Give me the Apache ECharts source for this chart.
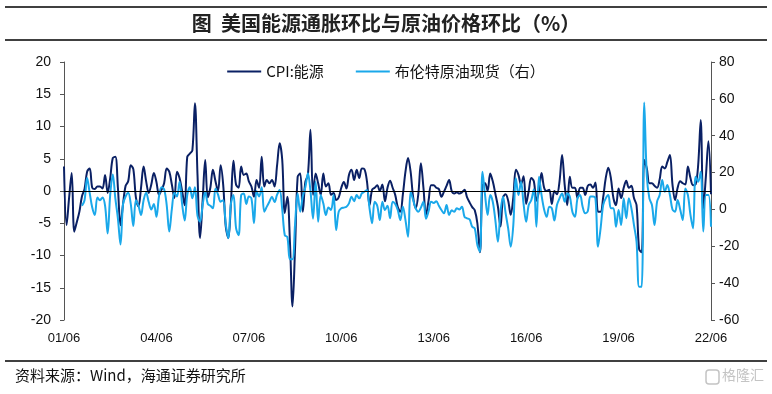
<!DOCTYPE html>
<html>
<head>
<meta charset="utf-8">
<script src="https://cdn.jsdelivr.net/npm/echarts@6/dist/echarts.min.js"></script>
<style>
html,body{margin:0;padding:0;background:#fff;}
#c{width:772px;height:394px;}
</style>
</head>
<body>
<div id="c"></div>
<script>
// ---- data ----
const startYear = 2001, startMonth = 6, nPoints = 253;
const seriesNames = ['CPI:能源', '布伦特原油现货（右）'];
const cpiEnergy = [
 3.8,-5.3,-1.0,2.8,-6.3,-4.8,-3.2,-0.8,0.3,3.0,
 3.5,0.5,0.3,0.7,0.7,0.4,2.5,-0.3,2.0,5.1,
 5.3,0.5,-5.3,-2.0,0.8,1.5,4.0,3.4,-1.0,-2.4,
 0.5,3.8,1.5,-0.3,1.0,2.8,1.4,-0.6,0.2,1.2,
 3.5,3.0,1.0,-1.1,3.0,2.0,0.0,-2.2,5.3,5.8,
 6.3,13.6,2.5,-7.3,-1.5,4.8,-1.0,0.5,3.3,1.5,
 0.0,4.0,1.0,-5.5,-7.3,-2.0,4.7,1.0,0.5,3.8,
 2.5,2.7,1.5,0.7,-0.9,1.7,0.5,5.3,0.7,1.7,
 1.2,1.7,0.7,4.0,7.4,4.8,-3.4,-0.9,-7.9,-17.9,
 -8.8,2.2,2.7,-3.2,1.4,2.5,9.5,-0.6,2.7,1.2,
 -0.6,2.7,0.7,1.2,-0.6,-0.3,-1.4,-1.0,0.5,1.4,
 0.4,2.5,3.3,1.7,3.3,2.0,3.5,3.4,1.5,-2.2,
 0.2,0.5,0.9,0.0,1.0,-1.6,0.5,1.6,0.5,-0.6,
 -2.5,-3.2,-0.5,3.0,5.1,3.0,-1.0,-2.7,-0.5,4.3,
 0.5,-3.7,-1.5,0.9,0.9,0.5,0.3,-0.9,-0.1,0.8,
 1.7,0.0,-0.4,-0.2,-0.4,-0.2,0.2,-1.0,-1.8,-2.5,
 -3.0,-5.0,-9.5,0.9,1.2,0.0,2.7,1.5,-0.4,-2.4,
 -5.5,-1.0,-0.5,-1.5,-3.7,-1.0,3.3,2.5,1.0,2.3,
 -2.0,0.0,2.0,1.5,-1.5,0.0,2.8,0.5,0.0,0.2,
 -2.0,0.0,-0.5,1.5,5.6,1.0,-2.2,2.2,0.5,0.5,
 -1.1,0.5,0.5,-0.6,0.8,1.0,0.5,1.3,-3.2,-3.2,
 -1.0,2.0,3.6,2.0,-1.1,-2.2,0.4,-1.1,0.5,1.6,
 0.5,0.8,-1.1,-2.2,-9.0,-9.5,4.8,3.5,1.2,1.2,
 0.8,0.5,1.8,3.8,3.5,4.5,5.6,1.0,-1.4,0.5,
 1.5,1.2,1.0,3.8,2.0,0.9,1.0,4.0,11.0,-2.7,
 2.2,7.7,-0.5
];
const brentSpot = [
 null,null,null,null,null,null,null,2,5,17,
 9,1,-3,6.5,5,6.5,2,-13,8,19,
 6,-5,-19,3,7,9,3,-9,5,2,
 -3,5,9,4,0,3,-4,7,12,11,
 2.4,-12,0,9,7,15,3,-6,7.8,12,
 6,12,-3.5,-6.7,2.4,9.6,3,2,0.6,11.4,
 8,4.2,5,-8,-15.7,3,7.8,-10,-14,7.8,
 8.7,3,7,6,-7.5,10,7,12,-1.2,1.5,
 4.2,6.9,4,8,10.5,0,-14,-15,-27,-27,
 -8,8.7,-1.2,7,12,19.6,10,-5,15,-6.7,
 7.8,3.3,-3,1,-0.3,7.8,-11.2,-1.2,0.6,1.0,
 1.5,3.3,6.9,4.5,7.8,6,8.7,9.6,10.5,0.6,
 -7.5,4.2,2,-5.8,4.2,-0.3,2,-4.8,4.2,3,
 -0.3,-5.8,1.5,-5.8,-14.8,9.6,5,0.6,-1.2,1,
 4.2,-5,-1,4.2,3.5,4.5,2,-0.3,-2.1,2.4,
 -3,-0.5,-1.2,0.6,0,1.5,-4,-4.8,-5.5,-9.4,
 -10.3,-19.3,-23,20.5,7.8,-3,7.8,4.2,-5.8,-17.5,
 -1.2,6.9,-2,-10.3,-20.2,-8.5,16.9,7.8,15,3,
 -6.7,2.4,5,11,-9.4,17.7,7.8,0,-4,1.5,
 0.6,-6,2.4,6,8.7,4.2,8.7,7,-1.2,-4,
 6,7.8,1.5,-2.1,-1,7,7,6,-20.2,-10.3,
 2.4,6,7.8,0.6,0.6,-9.4,-0.3,-8.5,6,-4.8,
 6,0.6,-8.5,-17.5,-42,-42,58,18,6,2.4,
 -8.5,4.2,7.8,16,9.6,13.2,7.8,0,-1.2,5.1,
 0,-5.8,11.4,7.8,-3,-10.3,17.7,15,20.5,-12,
 7.8,7.8,-9.4
];
const leftTicks = {min:-20, max:20, interval:5};
const rightTicks = {min:-60, max:80, interval:20};

// category labels YY/MM
const categories = [];
for (let i = 0; i < nPoints; i++) {
  const m = startMonth - 1 + i;
  const y = startYear + Math.floor(m / 12);
  const mm = (m % 12) + 1;
  categories.push(String(y % 100).padStart(2,'0') + '/' + String(mm).padStart(2,'0'));
}

const NAVY = '#0a2064', BLUE = '#1aa8ea';
const FONT = '"Liberation Sans", Arial, "Noto Sans CJK SC", sans-serif';
const CJK = '"Noto Sans CJK SC", "Liberation Sans", sans-serif';

const chart = echarts.init(document.getElementById('c'), null, {renderer:'canvas'});
chart.setOption({
  animation: false,
  backgroundColor: '#fff',
  title: {
    text: '图  美国能源通胀环比与原油价格环比（%）',
    left: 'center', top: 8,
    textStyle: {fontFamily: CJK, fontSize: 20, fontWeight: 'bold', color: '#222'}
  },
  graphic: [
    {type:'line', shape:{x1:5,y1:7,x2:767,y2:7}, style:{stroke:'#000', lineWidth:1.5}},
    {type:'line', shape:{x1:5,y1:40,x2:767,y2:40}, style:{stroke:'#000', lineWidth:1.5}},
    {type:'line', shape:{x1:5,y1:361,x2:767,y2:361}, style:{stroke:'#000', lineWidth:1.5}},
    {type:'text', left:15, top:368, style:{text:'资料来源：Wind，海通证券研究所', font:'15px ' + CJK, fill:'#111'}},
    {type:'rect', shape:{x:706,y:370,width:13,height:14,r:3}, style:{fill:'none', stroke:'#c4c4c4', lineWidth:1.5}},
    {type:'text', left:722, top:368, style:{text:'格隆汇', font:'14px ' + CJK, fill:'#c4c4c4'}}
  ],
  legend: {
    top: 59, left: 'center',
    itemWidth: 34, itemHeight: 2, itemGap: 32,
    icon: 'rect',
    textStyle: {fontFamily: CJK, fontSize: 15, color: '#111'},
    data: seriesNames
  },
  grid: {left: 64, right: 61, top: 62, bottom: 74, containLabel: false},
  xAxis: {
    type: 'category', data: categories, boundaryGap: false,
    axisLine: {show: false}, axisTick: {show: false},
    axisLabel: {interval: 35, color: '#111', fontFamily: FONT, fontSize: 13, margin: 12}
  },
  yAxis: [
    {type:'value', min:leftTicks.min, max:leftTicks.max, interval:leftTicks.interval, position:'left',
     splitLine:{show:false},
     axisLine:{show:true, lineStyle:{color:'#555', width:1}},
     axisTick:{show:true, inside:false, length:4, lineStyle:{color:'#555'}},
     axisLabel:{color:'#111', fontFamily:FONT, fontSize:14, margin:13}},
    {type:'value', min:rightTicks.min, max:rightTicks.max, interval:rightTicks.interval, position:'right',
     splitLine:{show:false}, alignTicks:false,
     axisLine:{show:true, lineStyle:{color:'#555', width:1}},
     axisTick:{show:true, inside:false, length:4, lineStyle:{color:'#555'}},
     axisLabel:{color:'#111', fontFamily:FONT, fontSize:14, margin:8}}
  ],
  series: [
    {name: seriesNames[0], type:'line', yAxisIndex:0, data: cpiEnergy,
     showSymbol:false, smooth:0.35, lineStyle:{color:NAVY, width:2}, itemStyle:{color:NAVY},
     markLine:{silent:true, symbol:'none', label:{show:false},
       lineStyle:{color:'#000', width:1.2, type:'solid'}, data:[{yAxis:0}]}},
    {name: seriesNames[1], type:'line', yAxisIndex:1, data: brentSpot,
     showSymbol:false, smooth:0.35, lineStyle:{color:BLUE, width:2}, itemStyle:{color:BLUE}}
  ]
});
</script>
</body>
</html>
